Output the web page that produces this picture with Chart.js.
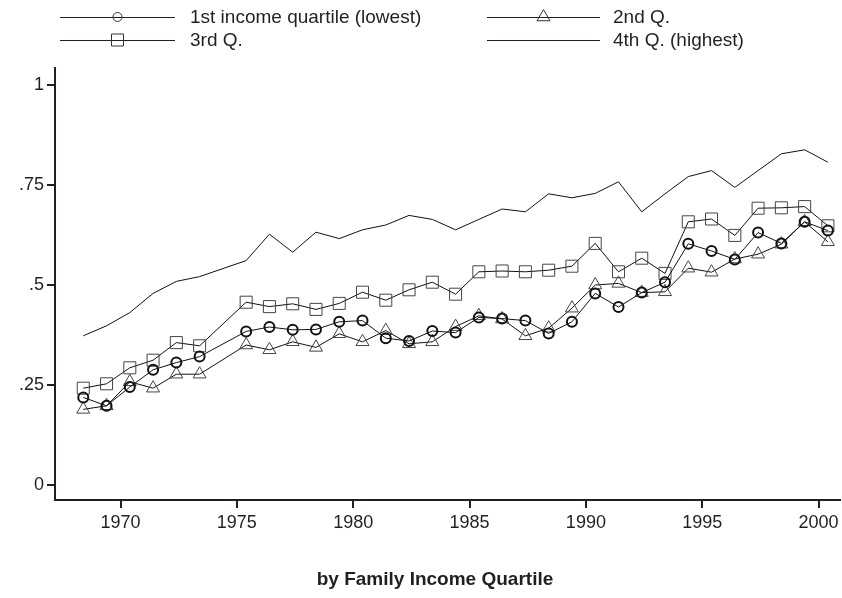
<!DOCTYPE html>
<html><head><meta charset="utf-8">
<script src="https://cdn.jsdelivr.net/npm/chart.js@4.4.1/dist/chart.umd.min.js"></script>
<style>html,body{margin:0;padding:0;background:#fff}#wrap{width:842px;height:598px;position:relative}</style>
</head><body><div id="wrap"><canvas id="c" width="842" height="598"></canvas></div>
<script>
// ---- data ----
const years = [1968,1969,1970,1971,1972,1973,1975,1976,1977,1978,1979,1980,1981,1982,1983,1984,1985,1986,1987,1988,1989,1990,1991,1992,1993,1994,1995,1996,1997,1998,1999,2000];
const q1 = [0.219,0.198,0.245,0.288,0.306,0.321,0.384,0.395,0.388,0.389,0.408,0.411,0.367,0.360,0.385,0.381,0.419,0.416,0.411,0.379,0.408,0.479,0.445,0.481,0.507,0.603,0.585,0.564,0.631,0.604,0.658,0.636];
const q2 = [0.189,0.198,0.258,0.242,0.277,0.277,0.350,0.338,0.358,0.344,0.378,0.358,0.386,0.353,0.358,0.396,0.423,0.415,0.373,0.392,0.442,0.500,0.504,0.481,0.483,0.542,0.532,0.565,0.577,0.602,0.658,0.608];
const q3 = [0.242,0.253,0.293,0.312,0.356,0.348,0.457,0.446,0.453,0.439,0.454,0.482,0.462,0.488,0.507,0.477,0.533,0.535,0.533,0.537,0.547,0.604,0.533,0.567,0.529,0.658,0.665,0.624,0.692,0.693,0.696,0.648];
const q4 = [0.373,0.398,0.431,0.479,0.509,0.521,0.561,0.627,0.582,0.632,0.616,0.638,0.650,0.674,0.664,0.638,0.664,0.690,0.683,0.728,0.718,0.729,0.758,0.683,0.728,0.771,0.786,0.744,0.786,0.828,0.838,0.807];
const seriesLabels = ['1st income quartile (lowest)','2nd Q.','3rd Q.','4th Q. (highest)'];
const xTickValues = [1970,1975,1980,1985,1990,1995,2000];
const yTickValues = [0,0.25,0.5,0.75,1];
const yTickLabels = ['0','.25','.5','.75','1'];
const chartTitle = 'by Family Income Quartile';

// ---- styling ----
const INK = '#231f20';
const FONT = '"Liberation Sans", Arial, sans-serif';
const X_OFFSET = 0.4; // points sit a little after the year tick

function toPoints(vals){ return years.map((yr,i)=>({x: yr + X_OFFSET, y: vals[i]})); }
const markerStyles = ['circle','triangle','rect',false];
const markerRadius = [5, 7.5, 8.5, 0];
const markerWidth = [2, 1, 1, 0];
const allSeries = [q1,q2,q3,q4];

const datasets = allSeries.map((vals,i)=>({
  label: seriesLabels[i],
  data: toPoints(vals),
  borderColor: '#111',
  borderWidth: 1,
  tension: 0,
  pointStyle: markerStyles[i] || 'circle',
  pointRadius: markerRadius[i],
  pointBorderWidth: markerWidth[i],
  pointBorderColor: i===0 ? '#111' : '#444',
  pointBackgroundColor: 'rgba(0,0,0,0)',
  pointHoverRadius: markerRadius[i],
  clip: false
}));

function drawMarker(ctx, style, x, y, r, w, color){
  if(!style) return;
  ctx.save();
  ctx.strokeStyle = color; ctx.lineWidth = w;
  ctx.beginPath();
  if(style==='circle'){ ctx.arc(x,y,r,0,Math.PI*2); }
  else if(style==='rect'){ const s=Math.SQRT1_2*r; ctx.rect(x-s,y-s,2*s,2*s); }
  else if(style==='triangle'){
    ctx.moveTo(x, y - r);
    ctx.lineTo(x + Math.sin(2*Math.PI/3)*r, y - Math.cos(2*Math.PI/3)*r);
    ctx.lineTo(x + Math.sin(4*Math.PI/3)*r, y - Math.cos(4*Math.PI/3)*r);
    ctx.closePath();
  }
  ctx.stroke();
  ctx.restore();
}

const legendPlugin = {
  id: 'customLegend',
  afterDraw(chart){
    const ctx = chart.ctx;
    const pos = [
      {x0:60,x1:175,tx:190,y:17},
      {x0:487,x1:600,tx:613,y:17},
      {x0:60,x1:175,tx:190,y:40},
      {x0:487,x1:600,tx:613,y:40}
    ];
    ctx.save();
    ctx.font = '19px ' + FONT;
    ctx.textBaseline = 'middle';
    ctx.textAlign = 'left';
    pos.forEach((p,i)=>{
      const ds = chart.data.datasets[i];
      ctx.strokeStyle = INK; ctx.lineWidth = 1;
      ctx.beginPath(); ctx.moveTo(p.x0,p.y+0.5); ctx.lineTo(p.x1,p.y+0.5); ctx.stroke();
      drawMarker(ctx, markerStyles[i], (p.x0+p.x1)/2, p.y, i===0 ? 4.5 : markerRadius[i], 1, '#333');
      ctx.fillStyle = INK;
      ctx.fillText(ds.label, p.tx, p.y+1);
    });
    ctx.font = 'bold 19px ' + FONT;
    ctx.textAlign = 'center';
    ctx.fillText(chartTitle, 435, 580);
    ctx.restore();
  }
};

new Chart(document.getElementById('c'), {
  type: 'line',
  data: { datasets },
  options: {
    responsive: false,
    animation: false,
    devicePixelRatio: 1,
    layout: { autoPadding: false, padding: { top: 68, right: 2, left: 0, bottom: 0 } },
    plugins: { legend: { display: false }, tooltip: { enabled: false }, title: { display: false } },
    scales: {
      x: {
        type: 'linear',
        min: 1967.185, max: 2000.92,
        afterBuildTicks(axis){ axis.ticks = xTickValues.map(v=>({value:v})); },
        afterFit(axis){ axis.height = 98; axis.paddingLeft = 0; axis.paddingRight = 0; },
        ticks: { color: INK, font: { family: FONT, size: 18 }, padding: 4, maxRotation: 0, autoSkip: false,
          callback: v => String(v) },
        grid: { drawOnChartArea: false, drawTicks: true, tickLength: 8, color: INK, lineWidth: 2 },
        border: { display: true, color: INK, width: 2 }
      },
      y: {
        type: 'linear',
        min: -0.0375, max: 1.0425,
        afterBuildTicks(axis){ axis.ticks = yTickValues.map(v=>({value:v})); },
        afterFit(axis){ axis.width = 55; axis.paddingTop = 0; axis.paddingBottom = 0; },
        ticks: { color: INK, font: { family: FONT, size: 18 }, padding: 3, autoSkip: false,
          callback: v => { const k = yTickValues.indexOf(v); return k>=0 ? yTickLabels[k] : ''; } },
        grid: { drawOnChartArea: false, drawTicks: true, tickLength: 8, color: INK, lineWidth: 2 },
        border: { display: true, color: INK, width: 2 }
      }
    }
  },
  plugins: [legendPlugin]
});
</script></body></html>
